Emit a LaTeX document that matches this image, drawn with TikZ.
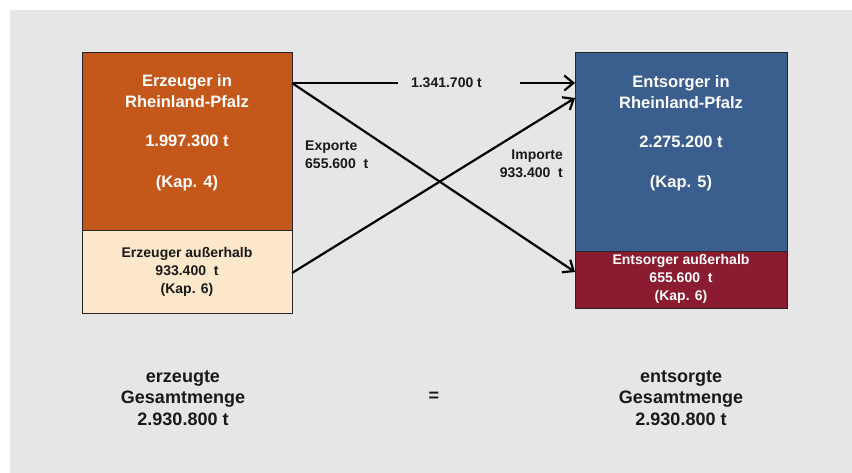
\documentclass[tikz,border=0pt]{standalone}
\usepackage{fontspec}
\setmainfont{Liberation Sans}
\usetikzlibrary{arrows.meta}
\definecolor{bg}{HTML}{E6E6E6}
\definecolor{orangebox}{HTML}{C4581A}
\definecolor{peachbox}{HTML}{FDE8CB}
\definecolor{bluebox}{HTML}{3A5E8D}
\definecolor{redbox}{HTML}{8A1B30}
\definecolor{edge}{HTML}{262626}
\tikzset{
  box/.style={draw=edge, line width=1.3pt, rectangle, inner sep=0pt, anchor=north west},
  bigtxt/.style={font=\bfseries\fontsize{16.5}{20.5}\selectfont, text=white, align=center, inner sep=0pt},
  smalltxt/.style={font=\bfseries\fontsize{14}{18}\selectfont, align=center, inner sep=0pt},
  totaltxt/.style={font=\bfseries\fontsize{18}{21.5}\selectfont, align=center, inner sep=0pt, text=black!90},
  flow/.style={line width=2.2pt, -{Straight Barb[length=9pt,width=15pt,line width=2.2pt]}},
}
\begin{document}
\begin{tikzpicture}[x=1pt,y=-1pt]
\useasboundingbox (0,0) rectangle (852,473);
\fill[white] (0,0) rectangle (852,473);
\fill[bg] (10,10) rectangle (852,473);

% boxes
\node[box, fill=orangebox, minimum width=210pt, minimum height=178pt] (LT) at (82,52) {};
\node[box, fill=peachbox, minimum width=210pt, minimum height=83pt] (LB) at (82,230) {};
\node[box, fill=bluebox, minimum width=212pt, minimum height=199pt] (RT) at (575,52) {};
\node[box, fill=redbox, minimum width=212pt, minimum height=57pt] (RB) at (575,251) {};

% box texts
\node[bigtxt] (lt1) at (187,91) {Erzeuger in\\Rheinland-Pfalz};
\node[bigtxt] (lt2) at (187,141) {1.997.300 t};
\node[bigtxt] (lt3) at (187,183) {(Kap. 4)};
\node[smalltxt, text=black!90] (lb) at (187,272) {Erzeuger außerhalb\\933.400\ \ t\\(Kap. 6)};

\node[bigtxt] (rt1) at (681,92) {Entsorger in\\Rheinland-Pfalz};
\node[bigtxt] (rt2) at (681,142) {2.275.200 t};
\node[bigtxt] (rt3) at (681,183) {(Kap. 5)};
\node[smalltxt, text=white!95!pink] (rb) at (681,279) {Entsorger außerhalb\\655.600\ \ t\\(Kap. 6)};

% connector end points
\coordinate (s1) at (292,83);
\coordinate (e1) at (575,83);
\coordinate (s2) at (292,83);
\coordinate (e2) at (575,272);
\coordinate (s3) at (292,273);
\coordinate (e3) at (575,98);

\draw[flow] (s2) -- (e2);
\draw[flow] (s3) -- (e3);
\draw[flow] (s1) -- node[pos=0.59, fill=bg, inner xsep=13pt, inner ysep=4pt, font=\bfseries\fontsize{14}{17}\selectfont, text=black!90] (lab1) {1.341.700 t\kern25pt\relax} (e1);

\node[smalltxt, align=left, anchor=west, text=black!90] (exp) at (305,155) {Exporte\\655.600\ \ t};
\node[smalltxt, align=right, anchor=east, text=black!90] (imp) at (563,164) {Importe\\933.400\ \ t};

% totals
\node[totaltxt] (tl) at (183,398) {erzeugte\\Gesamtmenge\\2.930.800 t};
\node[totaltxt] (eq) at (434,397) {=};
\node[totaltxt] (tr) at (681,398) {entsorgte\\Gesamtmenge\\2.930.800 t};
\end{tikzpicture}
\end{document}
